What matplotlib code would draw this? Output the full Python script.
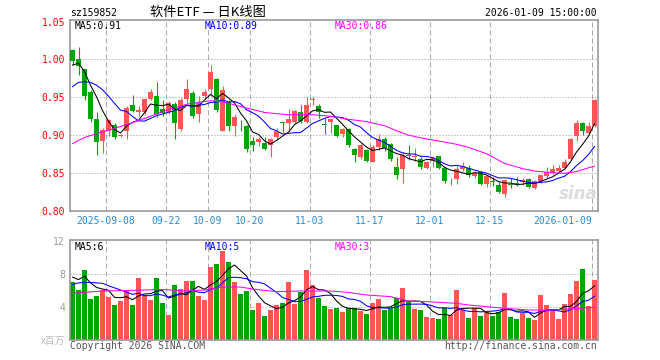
import numpy as np
import pandas as pd
import matplotlib
matplotlib.use("Agg")
import matplotlib.pyplot as plt

plt.rcParams['font.family'] = ['DejaVu Sans Mono', 'Noto Sans CJK SC']

# ---------------- data ----------------
opens = [1.013, 1.001, 0.987, 0.957, 0.921, 0.893, 0.906, 0.913, 0.899, 0.905,
         0.940, 0.931, 0.931, 0.948, 0.952, 0.935, 0.930, 0.941, 0.908, 0.948,
         0.956, 0.928, 0.952, 0.961, 0.974, 0.906, 0.944, 0.912, 0.918, 0.912,
         0.893, 0.891, 0.890, 0.887, 0.898, 0.917, 0.916, 0.918, 0.930, 0.918,
         0.947, 0.939, 0.915, 0.918, 0.913, 0.902, 0.908, 0.882, 0.871, 0.880,
         0.865, 0.885, 0.895, 0.889, 0.858, 0.855, 0.874, 0.871, 0.869, 0.857,
         0.866, 0.872, 0.857, 0.839, 0.842, 0.856, 0.857, 0.846, 0.851, 0.836,
         0.839, 0.834, 0.822, 0.835, 0.837, 0.838, 0.842, 0.831, 0.839, 0.846,
         0.850, 0.853, 0.857, 0.869, 0.899, 0.916, 0.903, 0.912]
highs = [1.014, 1.016, 0.988, 0.959, 0.930, 0.910, 0.922, 0.916, 0.902, 0.938,
         0.953, 0.938, 0.949, 0.961, 0.970, 0.947, 0.945, 0.944, 0.949, 0.974,
         0.958, 0.952, 0.961, 0.993, 0.975, 0.965, 0.947, 0.928, 0.920, 0.913,
         0.898, 0.898, 0.898, 0.896, 0.910, 0.918, 0.934, 0.933, 0.940, 0.950,
         0.950, 0.941, 0.923, 0.922, 0.914, 0.909, 0.909, 0.883, 0.888, 0.882,
         0.887, 0.901, 0.897, 0.890, 0.871, 0.878, 0.887, 0.883, 0.871, 0.866,
         0.872, 0.873, 0.858, 0.843, 0.859, 0.864, 0.861, 0.853, 0.853, 0.848,
         0.845, 0.838, 0.841, 0.844, 0.845, 0.844, 0.844, 0.841, 0.848, 0.858,
         0.861, 0.861, 0.869, 0.896, 0.920, 0.918, 0.918, 0.948]
lows = [0.992, 0.980, 0.946, 0.917, 0.874, 0.877, 0.899, 0.895, 0.898, 0.895,
        0.930, 0.925, 0.927, 0.946, 0.924, 0.925, 0.928, 0.895, 0.906, 0.942,
        0.923, 0.918, 0.949, 0.952, 0.930, 0.905, 0.905, 0.899, 0.905, 0.878,
        0.879, 0.886, 0.880, 0.871, 0.894, 0.904, 0.905, 0.916, 0.916, 0.916,
        0.940, 0.923, 0.902, 0.903, 0.897, 0.898, 0.884, 0.864, 0.869, 0.864,
        0.864, 0.881, 0.879, 0.866, 0.842, 0.837, 0.867, 0.866, 0.856, 0.855,
        0.858, 0.855, 0.837, 0.834, 0.835, 0.853, 0.845, 0.844, 0.834, 0.832,
        0.833, 0.824, 0.818, 0.831, 0.833, 0.834, 0.831, 0.829, 0.837, 0.844,
        0.849, 0.852, 0.856, 0.867, 0.893, 0.900, 0.902, 0.911]
closes = [0.998, 0.991, 0.952, 0.922, 0.891, 0.907, 0.920, 0.897, 0.900, 0.936,
          0.932, 0.933, 0.948, 0.957, 0.928, 0.929, 0.943, 0.916, 0.947, 0.961,
          0.925, 0.942, 0.957, 0.984, 0.933, 0.960, 0.912, 0.924, 0.917, 0.882,
          0.887, 0.895, 0.882, 0.895, 0.906, 0.916, 0.921, 0.932, 0.919, 0.940,
          0.948, 0.930, 0.914, 0.921, 0.899, 0.908, 0.887, 0.874, 0.887, 0.866,
          0.885, 0.895, 0.883, 0.869, 0.847, 0.874, 0.873, 0.872, 0.858, 0.864,
          0.870, 0.857, 0.839, 0.840, 0.856, 0.860, 0.847, 0.850, 0.835, 0.846,
          0.838, 0.825, 0.841, 0.834, 0.836, 0.841, 0.832, 0.839, 0.847, 0.851,
          0.856, 0.857, 0.865, 0.895, 0.916, 0.906, 0.912, 0.947]
volumes = [6.97, 6.04, 8.46, 4.95, 5.32, 6.04, 5.24, 4.23, 4.71, 5.92,
           4.23, 7.53, 5.44, 4.83, 7.53, 4.51, 3.02, 6.65, 6.16, 7.13,
           7.13, 5.32, 4.83, 8.86, 9.18, 10.75, 9.42, 7.05, 5.56, 5.92,
           3.62, 4.51, 2.94, 3.62, 4.23, 4.51, 7.05, 4.35, 5.84, 8.46,
           6.65, 5.11, 4.15, 3.75, 3.91, 3.42, 3.91, 3.83, 3.50, 3.14,
           4.51, 4.95, 3.62, 3.83, 5.03, 6.32, 4.63, 3.75, 3.62, 2.82,
           2.62, 2.54, 3.83, 3.02, 6.04, 3.62, 2.70, 3.83, 2.94, 3.42,
           2.94, 3.34, 5.72, 2.82, 2.54, 3.22, 2.70, 2.42, 5.44, 4.23,
           3.62, 2.54, 4.35, 5.56, 7.13, 8.58, 4.11, 7.25]

ma5_head = [0.9925, 0.995, 0.984, 0.966]
ma10_head = [0.964, 0.9697, 0.9705, 0.9697, 0.966, 0.960, 0.9516, 0.942, 0.933]
ma30_idx = [0, 2, 4, 7, 10, 13, 16, 19, 21, 23, 25, 27, 30, 32, 36, 40, 43, 46, 49,
            52, 54, 56, 59, 62, 64, 66, 69, 72, 75, 77, 80, 82, 84, 86, 87]
ma30_val = [0.889, 0.897, 0.902, 0.909, 0.9165, 0.925, 0.934, 0.9407, 0.9433, 0.9455,
            0.944, 0.940, 0.934, 0.930, 0.927, 0.927, 0.925, 0.921, 0.918, 0.9125,
            0.906, 0.900, 0.895, 0.891, 0.888, 0.884, 0.8756, 0.8628, 0.856, 0.8527,
            0.8505, 0.8497, 0.852, 0.857, 0.8593]
vma5_head = [7.6, 7.3, 7.7, 6.9]
vma10_head = [6.7, 6.9, 6.95, 6.95, 6.9, 6.85, 6.55, 6.3, 6.05]
vma30_idx = [0, 5, 10, 15, 19, 22, 25, 28, 30, 34, 38, 43, 46, 49, 53, 56, 59, 64,
             66, 69, 72, 76, 80, 83, 87]
vma30_val = [5.64, 5.92, 6.0, 6.1, 5.92, 6.04, 6.4, 6.4, 6.16, 5.84, 5.92, 5.92, 5.75,
             5.44, 5.24, 4.71, 4.63, 4.43, 4.23, 4.03, 3.83, 3.62, 3.62, 3.75, 3.95]

date_idx = [6, 16, 23, 30, 40, 50, 60, 70, 87]
date_labels = ['2025-09-08', '09-22', '10-09', '10-20', '11-03', '11-17',
               '12-01', '12-15', '2026-01-09']
price_ticks = [0.80, 0.85, 0.90, 0.95, 1.00, 1.05]
vol_ticks = [4, 8, 12]

code = 'sz159852'
title = '软件ETF — 日K线图'
stamp = '2026-01-09 15:00:00'
price_ma_labels = ['MA5:0.91', 'MA10:0.89', 'MA30:0.86']
vol_ma_labels = ['MA5:6', 'MA10:5', 'MA30:3']

# ---------------- derived ----------------
o = np.array(opens); h = np.array(highs); l = np.array(lows); c = np.array(closes)
v = np.array(volumes)
x = np.arange(len(c))
up = c >= o
RED, GREEN = '#ff5555', '#00a600'
cols = np.where(up, RED, GREEN)

ma5 = pd.Series(c).rolling(5).mean().to_numpy(); ma5[:4] = ma5_head
ma10 = pd.Series(c).rolling(10).mean().to_numpy(); ma10[:9] = ma10_head
vma5 = pd.Series(v).rolling(5).mean().to_numpy(); vma5[:4] = vma5_head
vma10 = pd.Series(v).rolling(10).mean().to_numpy(); vma10[:9] = vma10_head

# ---------------- figure ----------------
W, H = 660, 360
fig = plt.figure(figsize=(6.6, 3.6), dpi=100)
fig.patch.set_facecolor('white')

def px_axes(left, top, right, bottom):
    return fig.add_axes([left / W, 1 - bottom / H, (right - left) / W, (bottom - top) / H])

def ftext(px, py, s, **kw):
    fig.text(px / W, 1 - py / H, s, **kw)

ax = px_axes(70, 20, 598, 211)
axv = px_axes(70, 240, 598, 340)

PX = 0.72  # one pixel in points
GRID = '#aaaaaa'
FRAME = '#999999'
LW = 0.75
xl = (-0.4167, len(c) - 0.4167)

for a in (ax, axv):
    a.set_xlim(*xl)
    for s in a.spines.values():
        s.set_color(FRAME)
        s.set_linewidth(1.2)
    a.tick_params(length=0)
    for di in date_idx:
        a.axvline(di - 0.42, color=GRID, lw=PX, ls=(0, (5, 3)), zorder=0)

# price panel
ax.set_ylim(0.80, 1.052)
for yv in [0.85, 0.90, 0.95, 1.00]:
    ax.axhline(yv, color=FRAME, lw=PX, ls=(0, (1, 2)), zorder=0)

body_h = np.maximum(np.abs(c - o), 0.0009)
ax.vlines(x, l, h, colors=cols, lw=0.8, zorder=2)
ax.bar(x, body_h, bottom=np.minimum(o, c), width=0.833, color=cols, lw=0, zorder=3)
ax.plot(x, ma5, color='black', lw=LW, zorder=4)
ax.plot(x, ma10, color='#0000ff', lw=LW, zorder=4)
ax.plot(ma30_idx, ma30_val, color='#ff00ff', lw=LW, zorder=4)

ax.set_yticks(price_ticks)
ax.set_yticklabels([f'{t:.2f}' for t in price_ticks])
ax.tick_params(axis='y', labelcolor='#ff0000', labelsize=7, pad=3.6)
ax.set_xticks([di - 0.42 for di in date_idx])
ax.set_xticklabels(date_labels)
ax.tick_params(axis='x', labelcolor='#2a8ad8', labelsize=7, pad=3.5)
ax.get_xticklabels()[-1].set_ha('right')

ax.text(0.962, 0.09, 'sina', transform=ax.transAxes, ha='center', va='center',
        fontsize=12, fontstyle='italic', fontweight='bold', color='#dcdcdc',
        family='DejaVu Sans', zorder=1)

# volume panel
axv.set_ylim(0, 12.08)
for yv in [4, 8]:
    axv.axhline(yv, color=FRAME, lw=PX, ls=(0, (1, 2)), zorder=0)
axv.bar(x, v, width=0.833, color=cols, lw=0, zorder=2)
axv.plot(x, vma5, color='black', lw=LW, zorder=4)
axv.plot(x, vma10, color='#0000ff', lw=LW, zorder=4)
axv.plot(vma30_idx, vma30_val, color='#ff00ff', lw=LW, zorder=4)
axv.set_yticks(vol_ticks)
axv.set_yticklabels([str(t) for t in vol_ticks])
axv.tick_params(axis='y', labelcolor='#999999', labelsize=7, pad=3.6)
axv.set_xticks([])

# texts
ftext(70, 13, code, ha='left', va='center', fontsize=7, color='black')
ftext(150, 12.5, title, ha='left', va='center', fontsize=9.5, color='black',
      family=['Noto Sans CJK SC', 'DejaVu Sans'])
ftext(597, 13, stamp, ha='right', va='center', fontsize=7, color='black')

ma_cols = ['black', '#0000ff', '#ff00ff']
for px_, s, col in zip([75, 205, 335], price_ma_labels, ma_cols):
    ftext(px_, 26, s, ha='left', va='center', fontsize=7, color=col)
for px_, s, col in zip([75, 205, 335], vol_ma_labels, ma_cols):
    ftext(px_, 247, s, ha='left', va='center', fontsize=7, color=col)

ftext(65, 341, 'x百万', ha='right', va='center', fontsize=7, color='#bbbbbb',
      family=['Noto Sans CJK SC', 'DejaVu Sans'])
ftext(70, 346, 'Copyright 2026 SINA.COM', ha='left', va='center', fontsize=7, color='#555555')
ftext(597, 346, 'http://finance.sina.com.cn', ha='right', va='center', fontsize=7, color='#555555')

fig.savefig('out.png', dpi=100, facecolor='white')
